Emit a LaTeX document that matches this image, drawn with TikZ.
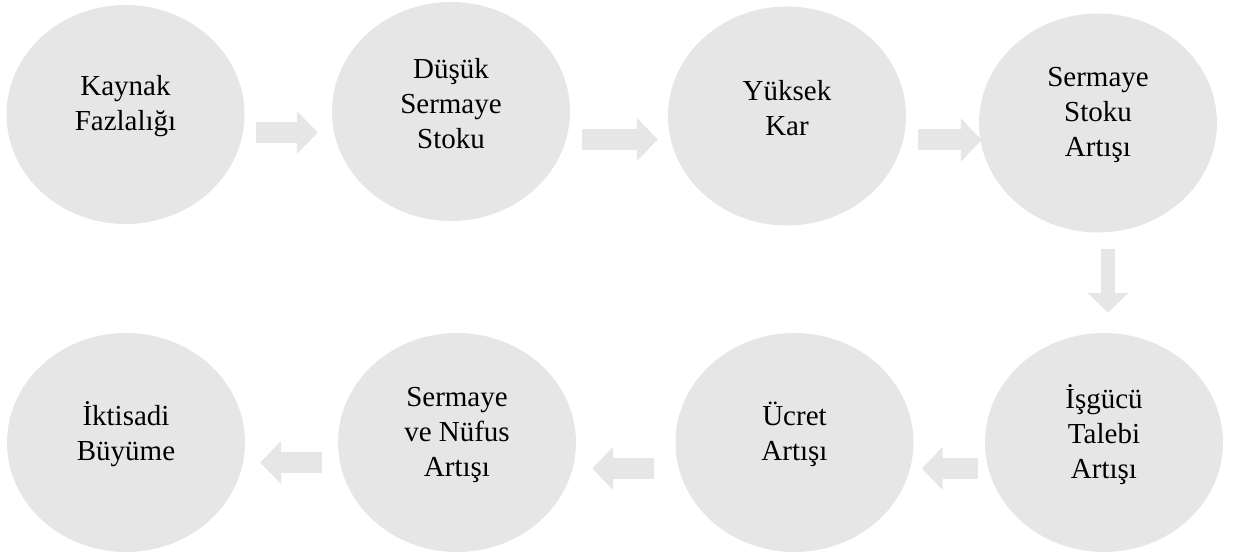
\documentclass[tikz,border=0pt]{standalone}
\usepackage{fontspec}
\setmainfont{Liberation Serif}
\usetikzlibrary{shapes.geometric,arrows.meta,positioning}
\definecolor{stagegray}{RGB}{230,230,230}

\begin{document}
\begin{tikzpicture}[x=1pt, y=-1pt, >={Triangle[width=42pt,length=21pt]}]
    % Styles
    \tikzstyle{stage} = [ellipse, fill=stagegray, minimum width=238pt, minimum height=219pt, inner sep=0pt]
    \tikzstyle{stagetext} = [align=center, font=\fontsize{29}{35}\selectfont, yshift=8pt]
    \tikzstyle{flow} = [draw=stagegray, line width=21pt, ->]
    \tikzstyle{drop} = [draw=stagegray, line width=14pt, -{Triangle[width=40pt,length=20pt]}]

    \useasboundingbox (0,0) rectangle (1234,556);

    % Nodes
    \node [stage, label={[stagetext]center:{Kaynak\\Fazlalığı}}] (kaynak) at (125.5,114.5) {};
    \node [stage, label={[stagetext]center:{Düşük\\Sermaye\\Stoku}}] (dusuk) at (451,111.5) {};
    \node [stage, label={[stagetext]center:{Yüksek\\Kar}}] (yuksek) at (787,116) {};
    \node [stage, label={[stagetext]center:{Sermaye\\Stoku\\Artışı}}] (artis) at (1098,123) {};
    \node [stage, label={[stagetext]center:{İşgücü\\Talebi\\Artışı}}] (talep) at (1104,442.5) {};
    \node [stage, label={[stagetext]center:{Ücret\\Artışı}}] (ucret) at (794.5,442.5) {};
    \node [stage, label={[stagetext]center:{Sermaye\\ve Nüfus\\Artışı}}] (nufus) at (457,442.5) {};
    \node [stage, label={[stagetext]center:{İktisadi\\Büyüme}}] (buyume) at (126,442.5) {};

    % Upper row
    \draw [flow, shorten <=11pt, shorten >=14pt] ([yshift=-18pt]kaynak.east) -- ([yshift=-18pt]kaynak.east -| dusuk.west);
    \draw [flow, shorten <=12pt, shorten >=10pt] ([yshift=-28pt]dusuk.east) -- ([yshift=-28pt]dusuk.east -| yuksek.west);
    \draw [flow, shorten <=12pt, shorten >=-3pt] ([yshift=-24pt]yuksek.east) -- ([yshift=-24pt]yuksek.east -| artis.west);

    % Turn down
    \draw [drop, shorten <=16pt, shorten >=20pt] ([xshift=10pt]artis.south) -- ([xshift=10pt]artis.south |- talep.north);

    % Lower row, back to the left
    \draw [flow, shorten <=7pt, shorten >=8pt] ([yshift=-26pt]talep.west) -- ([yshift=-26pt]talep.west -| ucret.east);
    \draw [flow, shorten <=21pt, shorten >=16pt] ([yshift=-26pt]ucret.west) -- ([yshift=-26pt]ucret.west -| nufus.east);
    \draw [flow, shorten <=16pt, shorten >=15pt] ([yshift=-20pt]nufus.west) -- ([yshift=-20pt]nufus.west -| buyume.east);
\end{tikzpicture}
\end{document}
